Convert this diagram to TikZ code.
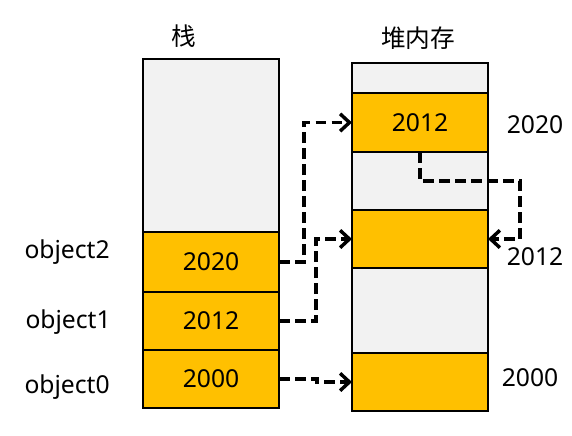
\documentclass[tikz,border=0pt]{standalone}
\usepackage{fontspec}
\setmainfont{Noto Sans}
\newfontfamily\cjk{Noto Sans CJK SC}
\usetikzlibrary{arrows.meta,positioning}
\definecolor{cellorange}{HTML}{FFC000}
\definecolor{cellgray}{HTML}{F2F2F2}

\begin{document}
\begin{tikzpicture}[x=0.75pt,y=-0.75pt,node distance=0pt,
    every node/.style={font=\fontsize{18.5}{22}\selectfont},
    cell/.style={draw=black,line width=1pt,outer sep=0pt,inner sep=0pt,minimum width=102pt},
    free/.style={cell,fill=cellgray},
    used/.style={cell,fill=cellorange},
    lbl/.style={inner sep=0pt},
    ptr/.style={line width=2.6pt,dash pattern=on 8pt off 4pt,-{Straight Barb[length=7pt,width=13pt]}}]

        \useasboundingbox (0,0) rectangle (572,436);

        % stack
        \node[free, minimum height=129.75pt, anchor=north west] (s_top) at (143,59) {};
        \node[used, minimum height=45pt] (s_2020) [below=of s_top] {2020};
        \node[used, minimum height=43.5pt] (s_2012) [below=of s_2020] {2012};
        \node[used, minimum height=43.5pt] (s_2000) [below=of s_2012] {2000};

        % heap
        \node[free, minimum height=22.5pt, anchor=north west] (h_top) at (352,63) {};
        \node[used, minimum height=44.25pt] (h_2020) [below=of h_top] {2012};
        \node[free, minimum height=43.5pt] (h_free1) [below=of h_2020] {};
        \node[used, minimum height=43.5pt] (h_2012) [below=of h_free1] {};
        \node[free, minimum height=63.75pt] (h_free2) [below=of h_2012] {};
        \node[used, minimum height=43.5pt] (h_2000) [below=of h_free2] {};

        % titles
        \node[lbl] (t_stack) at (184,36) {\cjk 栈};
        \node[lbl] (t_heap) at (418,38) {\cjk 堆内存};

        % variables
        \node[lbl, anchor=east] (v_2) at (110,252) {object2};
        \node[lbl, anchor=east] (v_1) at (111,322) {object1};
        \node[lbl, anchor=east] (v_0) at (110,387) {object0};

        % addresses
        \node[lbl] (a_2020) at (535,125) {2020};
        \node[lbl] (a_2012) at (535,257) {2012};
        \node[lbl] (a_2000) at (530,378) {2000};

        \draw[ptr] (s_2020.east) -- ++(25,0) |- (h_2020.west);
        \draw[ptr] (s_2012.east) -- ++(37,0) |- (h_2012.west);
        \draw[ptr] (s_2000.east) -- ++(38,0) |- (h_2000.west);
        \draw[ptr] (h_2020.south) -- ++(0,29) -| ([xshift=24pt]h_2012.east) -- (h_2012.east);
      \end{tikzpicture}
\end{document}
